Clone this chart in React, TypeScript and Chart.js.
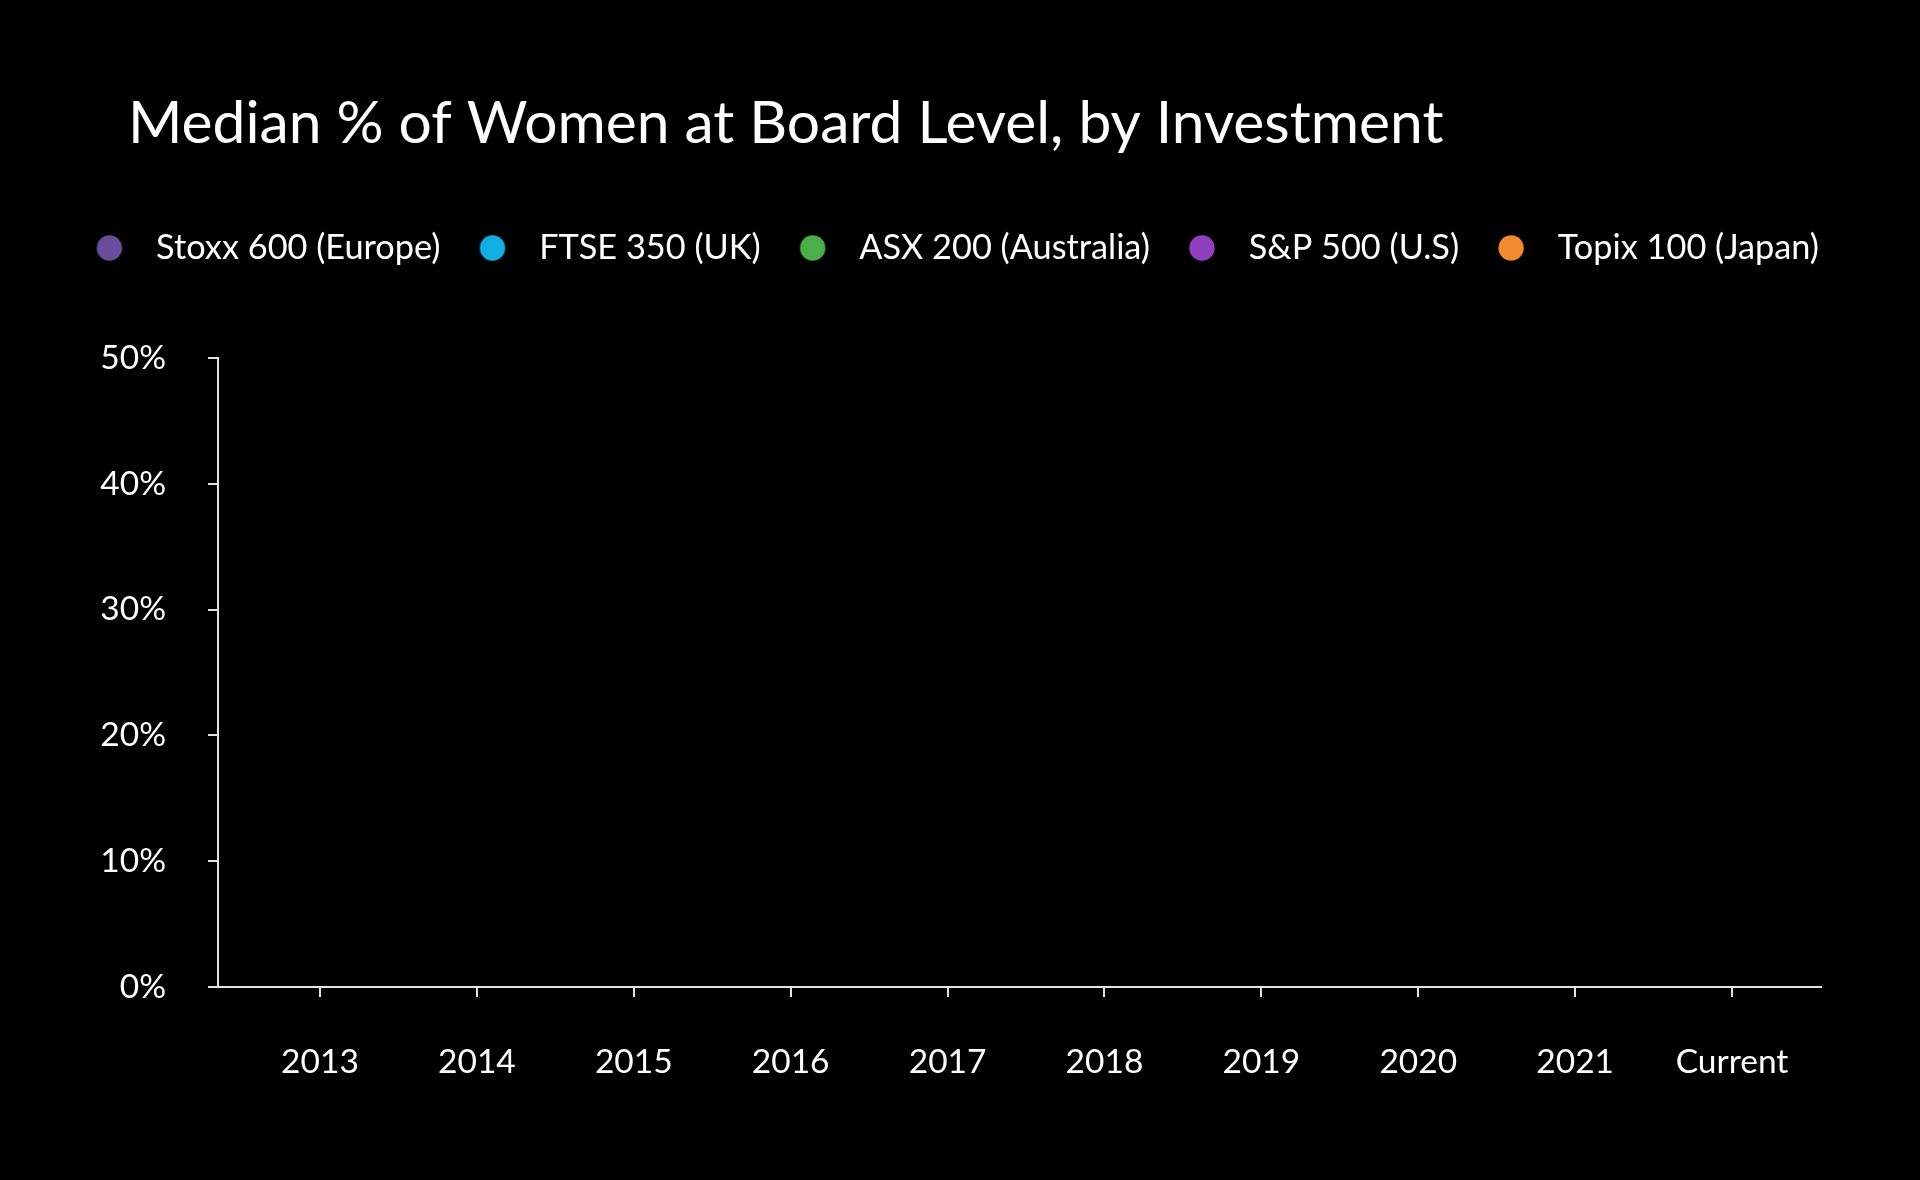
import React, { useEffect, useRef } from 'react';
import { Chart, registerables } from 'chart.js';

Chart.register(...registerables);

// ---- Data ----
const chartTitle = 'Median % of Women at Board Level, by Investment';
const categories = ['2013', '2014', '2015', '2016', '2017', '2018', '2019', '2020', '2021', 'Current'];
const yTickValues = [0, 10, 20, 30, 40, 50];
const seriesNames = ['Stoxx 600 (Europe)', 'FTSE 350 (UK)', 'ASX 200 (Australia)', 'S&P 500 (U.S)', 'Topix 100 (Japan)'];
const seriesColors = ['#6a4c9c', '#12aee3', '#4cae48', '#8f41bd', '#f48a2f'];
// No values are plotted in the reference: every series is empty.
const stoxx600Europe: (number | null)[] = [];
const ftse350UK: (number | null)[] = [];
const asx200Australia: (number | null)[] = [];
const sp500US: (number | null)[] = [];
const topix100Japan: (number | null)[] = [];
const seriesValues = [stoxx600Europe, ftse350UK, asx200Australia, sp500US, topix100Japan];

const FONT = 'Lato, "Open Sans", sans-serif';
const AXIS_COLOR = '#e2e2e2';
const TEXT_COLOR = '#ffffff';

function makeDot(color: string): HTMLCanvasElement {
  const c = document.createElement('canvas');
  c.width = 60;
  c.height = 30;
  const g = c.getContext('2d')!;
  g.fillStyle = color;
  g.beginPath();
  g.arc(30, 15, 12.7, 0, Math.PI * 2);
  g.fill();
  return c;
}

const titlePlugin = {
  id: 'leftTitle',
  afterDraw(chart: any) {
    const ctx = chart.ctx as CanvasRenderingContext2D;
    ctx.save();
    ctx.font = `400 58.7px ${FONT}`;
    ctx.fillStyle = TEXT_COLOR;
    ctx.textAlign = 'left';
    ctx.textBaseline = 'alphabetic';
    ctx.fillText(chartTitle, 128, 143);
    ctx.restore();
  },
};

export default function App() {
  const ref = useRef<HTMLCanvasElement | null>(null);

  useEffect(() => {
    if (!ref.current) return;
    const dots = seriesColors.map(makeDot);
    const chart = new Chart(ref.current, {
      type: 'line',
      data: {
        datasets: seriesNames.map((name, i) => ({
          label: name,
          data: seriesValues[i].map((v, j) => ({ x: j, y: v })),
          borderColor: seriesColors[i],
          backgroundColor: seriesColors[i],
          pointStyle: 'circle',
          borderWidth: 3,
          xAxisID: 'x',
          yAxisID: 'y',
        })) as any,
      },
      options: {
        responsive: false,
        animation: false,
        devicePixelRatio: 1,
        layout: { padding: { top: 208.4, left: 57.4, right: 10, bottom: 0 } },
        plugins: {
          title: { display: false },
          tooltip: { enabled: false },
          legend: {
            display: true,
            position: 'top',
            align: 'start',
            labels: {
              usePointStyle: true,
              pointStyleWidth: 59.1,
              boxHeight: 20,
              padding: 22.45,
              color: TEXT_COLOR,
              font: { family: FONT, size: 34.3 },
              generateLabels: (ch: any) =>
                Chart.defaults.plugins.legend.labels.generateLabels(ch).map((l: any, i: number) => ({
                  ...l,
                  pointStyle: dots[i],
                  fontColor: TEXT_COLOR,
                })),
            },
          },
        },
        scales: {
          x: {
            type: 'linear',
            position: 'bottom',
            min: -0.65,
            max: 9.565,
            afterFit: (s: any) => {
              s.height = 193;
            },
            afterBuildTicks: (s: any) => {
              s.ticks = categories.map((_, i) => ({ value: i }));
            },
            grid: { drawOnChartArea: false, drawTicks: true, tickLength: 10, tickColor: AXIS_COLOR, lineWidth: 2 },
            border: { display: true, color: AXIS_COLOR, width: 2 },
            ticks: {
              color: TEXT_COLOR,
              font: { family: FONT, size: 33.5 },
              padding: 44.8,
              maxRotation: 0,
              autoSkip: false,
              callback: (v: any) => categories[Math.round(Number(v))] ?? '',
            },
          },
          xTop: {
            type: 'linear',
            position: 'top',
            display: true,
            afterFit: (s: any) => {
              s.height = 82.85;
            },
            grid: { display: false, drawTicks: false },
            border: { display: false },
            ticks: { display: false },
          },
          y: {
            type: 'linear',
            position: 'left',
            min: yTickValues[0],
            max: yTickValues[yTickValues.length - 1],
            afterFit: (s: any) => {
              s.width = 160.6;
            },
            afterBuildTicks: (s: any) => {
              s.ticks = yTickValues.map((v) => ({ value: v }));
            },
            grid: { drawOnChartArea: false, drawTicks: true, tickLength: 10, tickColor: AXIS_COLOR, lineWidth: 2 },
            border: { display: true, color: AXIS_COLOR, width: 2 },
            ticks: {
              color: TEXT_COLOR,
              font: { family: FONT, size: 33.5 },
              padding: 42,
              callback: (v: any) => `${v}%`,
            },
          },
          yRight: {
            type: 'linear',
            position: 'right',
            display: true,
            afterFit: (s: any) => {
              s.width = 89.3;
            },
            grid: { display: false, drawTicks: false },
            border: { display: false },
            ticks: { display: false },
          },
        },
      } as any,
      plugins: [titlePlugin],
    });
    return () => chart.destroy();
  }, []);

  return (
    <div style={{ position: 'fixed', left: 0, top: 0, width: 1920, height: 1180, background: '#000' }}>
      <canvas ref={ref} width={1920} height={1180} style={{ display: 'block', width: 1920, height: 1180 }} />
    </div>
  );
}
